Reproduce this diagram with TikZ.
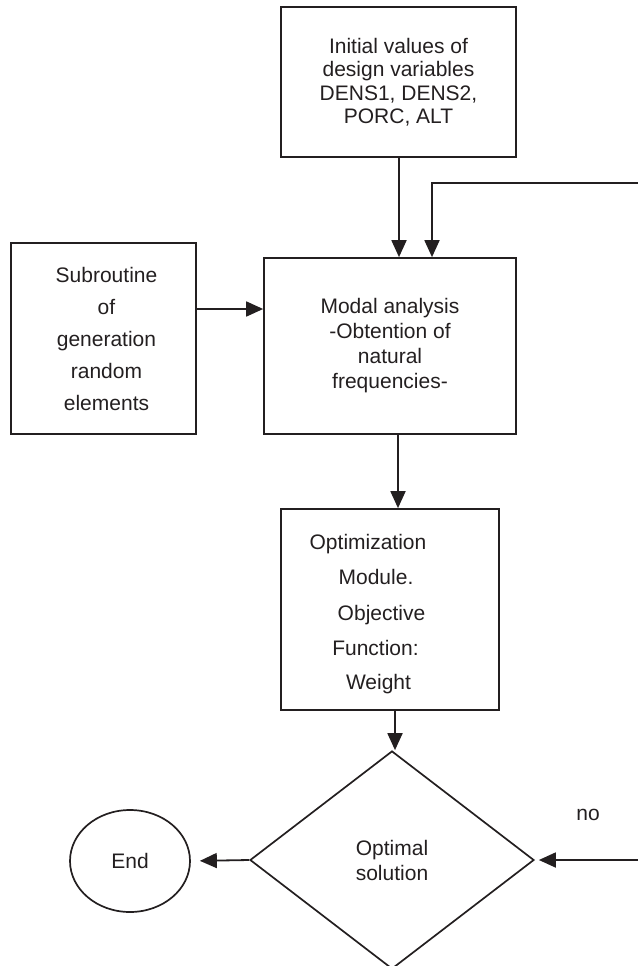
\documentclass[tikz,border=0pt]{standalone}
\usepackage{fontspec}
\setmainfont{Liberation Sans}
\usetikzlibrary{arrows.meta,shapes.geometric}
\definecolor{ink}{RGB}{35,31,32}
\begin{document}
\begin{tikzpicture}[x=1pt,y=-1pt,
  box/.style={draw=ink, line width=1.7pt, rectangle, inner sep=0pt, align=center, text=ink},
  arr/.style={draw=ink, line width=1.8pt, -{Triangle[length=17pt,width=15pt]}},
  lbl/.style={text=ink, font=\fontsize{21}{25}\selectfont, inner sep=0pt}]
\useasboundingbox (0,0) rectangle (637,966);

\node[box, minimum width=235pt, minimum height=150pt, font=\fontsize{21}{23.5}\selectfont] (top) at (398.5,82)
  {Initial values of\\design variables\\DENS1, DENS2,\\PORC, ALT};
\node[box, minimum width=252pt, minimum height=176pt, font=\fontsize{21}{25}\selectfont] (modal) at (390,346)
  {Modal analysis\\-Obtention of\\natural\\frequencies-};
\node[box, minimum width=185pt, minimum height=191pt, font=\fontsize{21}{32}\selectfont] (sub) at (103.5,338.5)
  {\hspace*{6pt}Subroutine\\\hspace*{6pt}of\\\hspace*{6pt}generation\\\hspace*{6pt}random\\\hspace*{6pt}elements};
\node[box, minimum width=218pt, minimum height=201pt] (opt) at (390,609.5) {};
\node[lbl, anchor=base] (o1) at (368,549) {Optimization};
\node[lbl, anchor=base] (o2) at (376,584) {Module.};
\node[lbl, anchor=base] (o3) at (381.5,620) {Objective};
\node[lbl, anchor=base] (o4) at (375.5,655) {Function:};
\node[lbl, anchor=base] (o5) at (378.5,689) {Weight};

\node[diamond, draw=ink, line width=1.7pt, minimum width=284pt, minimum height=218pt, inner sep=0pt,
  align=center, text=ink, font=\fontsize{21}{25}\selectfont] (dec) at (392,860) {Optimal\\solution};
\node[ellipse, draw=ink, line width=1.7pt, minimum width=120pt, minimum height=102pt, inner sep=0pt,
  text=ink, font=\fontsize{21}{25}\selectfont] (end) at (130,861) {End};
\node[lbl] (no) at (588,815) {no};

\coordinate (tx) at (399,0);
\draw[arr] (top.south -| tx) -- (modal.north -| tx);
\coordinate (fbR) at (645,183);
\coordinate (fbC) at (432,183);
\draw[arr] (fbR) -- (fbC) -- (fbC |- modal.north);
\coordinate (sy) at (0,309);
\draw[arr] (sub.east |- sy) -- (modal.west |- sy);
\coordinate (mx) at (398,0);
\draw[arr] (modal.south -| mx) -- (opt.north -| mx);
\coordinate (dx) at (395,0);
\draw[arr] (opt.south -| dx) -- (dec.north -| dx);
\draw[arr, shorten >=9pt] (dec.west) -- (end.east);
\coordinate (nR) at (645,860);
\draw[arr, shorten >=4pt] (nR) -- (dec.east);
\end{tikzpicture}
\end{document}
